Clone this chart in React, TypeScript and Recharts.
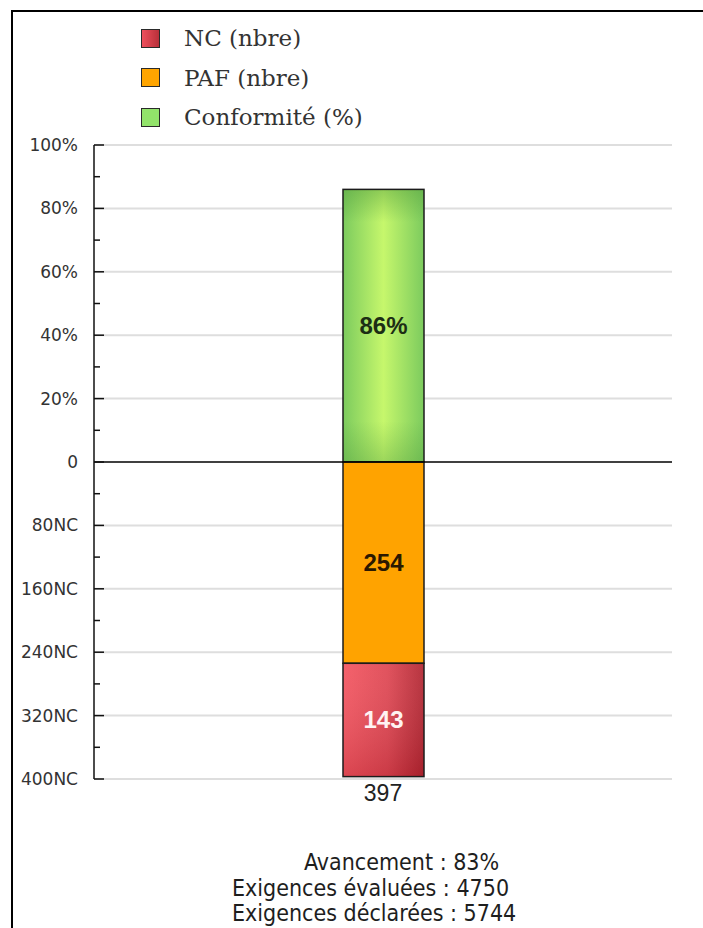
import { BarChart, Bar, XAxis, YAxis, ReferenceLine, LabelList, CartesianGrid } from "recharts";

const categories = ["397"];
const conformite = [86];
const paf = [254];
const nc = [143];

// 400 NC on the lower half == 100 % on the upper half
const NC_PER_UNIT = 4;

const yTicks = [
    -100, -90, -80, -70, -60, -50, -40, -30, -20, -10, 0, 10, 20, 30, 40, 50, 60, 70, 80, 90, 100,
];
const gridTicks = [-100, -80, -60, -40, -20, 20, 40, 60, 80, 100];

const legendItems = [
    { name: "NC (nbre)", fill: "linear-gradient(90deg, #ee4f5c, #b8303a)" },
    { name: "PAF (nbre)", fill: "#ffa500" },
    { name: "Conformité (%)", fill: "#92e36a" },
];

const summaryLines = [
    { text: "Avancement : 83%", left: 304 },
    { text: "Exigences évaluées : 4750", left: 232 },
    { text: "Exigences déclarées : 5744", left: 232 },
];

const data = categories.map((name, i) => ({
    name,
    conformite: conformite[i],
    paf: -paf[i] / NC_PER_UNIT,
    nc: -nc[i] / NC_PER_UNIT,
    pafLabel: paf[i],
    ncLabel: nc[i],
    confLabel: `${conformite[i]}%`,
}));

const formatY = (v: number) => {
    if (v === 0) return "0";
    if (v > 0) return `${v}%`;
    return `${-v * NC_PER_UNIT}NC`;
};

const TICK_MARGIN = 16;

const YTick = (props: any) => {
    const { x, y, payload } = props;
    const v = payload.value;
    const major = v % 20 === 0;
    const axisX = x + TICK_MARGIN;
    return (
        <g>
            <line
                x1={axisX}
                x2={axisX + (major ? 10 : 6)}
                y1={y}
                y2={y}
                stroke="#111"
                strokeWidth={1.5}
            />
            {major && (
                <text
                    x={x}
                    y={y}
                    dy={6}
                    textAnchor="end"
                    fontFamily="'DejaVu Sans', sans-serif"
                    fontSize={17}
                    fill="#333"
                >
                    {formatY(v)}
                </text>
            )}
        </g>
    );
};

const PillowBar = (props: any) => {
    const { x, y, width, height, hGrad, vGrad, solid } = props;
    const top = Math.min(y, y + height);
    const h = Math.abs(height);
    return (
        <g>
            <rect x={x} y={top} width={width} height={h} fill={solid || `url(#${hGrad})`} />
            {vGrad && <rect x={x} y={top} width={width} height={h} fill={`url(#${vGrad})`} />}
            <rect
                x={x}
                y={top}
                width={width}
                height={h}
                fill="none"
                stroke="#1c1c1c"
                strokeWidth={1.5}
            />
        </g>
    );
};

const labelFont = "'Liberation Sans', Arial, sans-serif";

const App = () => {
    return (
        <div
            style={{
                position: "absolute",
                left: 0,
                top: 0,
                width: 703,
                height: 928,
                background: "#fff",
                overflow: "hidden",
            }}
        >
            <div
                style={{
                    position: "absolute",
                    left: 11,
                    top: 10,
                    width: 692,
                    height: 918,
                    borderLeft: "2px solid #000",
                    borderTop: "2px solid #000",
                    boxSizing: "border-box",
                }}
            />

            {legendItems.map((item, i) => (
                <div
                    key={item.name}
                    style={{
                        position: "absolute",
                        left: 141,
                        top: 27 + i * 39.5,
                        height: 22,
                        display: "flex",
                        alignItems: "center",
                    }}
                >
                    <div
                        style={{
                            width: 19,
                            height: 19,
                            background: item.fill,
                            border: "1.5px solid #2a2a2a",
                            boxSizing: "border-box",
                        }}
                    />
                    <span
                        style={{
                            marginLeft: 24,
                            fontFamily: "'DejaVu Serif', serif",
                            fontSize: 23,
                            color: "#333",
                            whiteSpace: "nowrap",
                        }}
                    >
                        {item.name}
                    </span>
                </div>
            ))}

            <div style={{ position: "absolute", left: 0, top: 0 }}>
                <BarChart
                    width={703}
                    height={928}
                    data={data}
                    stackOffset="sign"
                    margin={{ top: 145, right: 31, left: 14, bottom: 119 }}
                >
                    <defs>
                        <linearGradient id="gGreenH" x1="0" y1="0" x2="1" y2="0">
                            <stop offset="0%" stopColor="#7ccb5e" />
                            <stop offset="50%" stopColor="#c6f76c" />
                            <stop offset="100%" stopColor="#7ccb5e" />
                        </linearGradient>
                        <linearGradient id="gGreenV" x1="0" y1="0" x2="0" y2="1">
                            <stop offset="0%" stopColor="#4f9a3c" stopOpacity={0.45} />
                            <stop offset="12%" stopColor="#4f9a3c" stopOpacity={0} />
                            <stop offset="85%" stopColor="#4f9a3c" stopOpacity={0} />
                            <stop offset="100%" stopColor="#4f9a3c" stopOpacity={0.35} />
                        </linearGradient>
                        <linearGradient id="gRedH" x1="0" y1="0" x2="1" y2="0">
                            <stop offset="0%" stopColor="#f4545f" />
                            <stop offset="55%" stopColor="#de4450" />
                            <stop offset="100%" stopColor="#b0232f" />
                        </linearGradient>
                        <linearGradient id="gRedV" x1="0" y1="0" x2="0" y2="1">
                            <stop offset="0%" stopColor="#ffffff" stopOpacity={0.08} />
                            <stop offset="100%" stopColor="#7a0f18" stopOpacity={0.2} />
                        </linearGradient>
                    </defs>

                    <CartesianGrid
                        vertical={false}
                        horizontalValues={gridTicks}
                        stroke="#dedede"
                        strokeWidth={2}
                    />

                    <XAxis
                        dataKey="name"
                        axisLine={false}
                        tickLine={false}
                        tickSize={0}
                        tickMargin={6}
                        height={30}
                        tick={{ fontFamily: labelFont, fontSize: 23, fill: "#222" }}
                    />
                    <YAxis
                        type="number"
                        domain={[-100, 100]}
                        ticks={yTicks}
                        interval={0}
                        width={80}
                        tickSize={0}
                        tickMargin={TICK_MARGIN}
                        tickLine={false}
                        axisLine={{ stroke: "#111", strokeWidth: 1.5 }}
                        tick={<YTick />}
                    />

                    <Bar
                        dataKey="conformite"
                        stackId="a"
                        barSize={81}
                        isAnimationActive={false}
                        shape={(p: any) => <PillowBar {...p} hGrad="gGreenH" vGrad="gGreenV" />}
                    >
                        <LabelList
                            dataKey="confLabel"
                            position="center"
                            fill="#1c2e14"
                            fontFamily={labelFont}
                            fontWeight="bold"
                            fontSize={24}
                        />
                    </Bar>
                    <Bar
                        dataKey="paf"
                        stackId="a"
                        barSize={81}
                        isAnimationActive={false}
                        shape={(p: any) => <PillowBar {...p} solid="#ffa300" />}
                    >
                        <LabelList
                            dataKey="pafLabel"
                            position="center"
                            fill="#2a1800"
                            fontFamily={labelFont}
                            fontWeight="bold"
                            fontSize={24}
                        />
                    </Bar>
                    <Bar
                        dataKey="nc"
                        stackId="a"
                        barSize={81}
                        isAnimationActive={false}
                        shape={(p: any) => <PillowBar {...p} hGrad="gRedH" vGrad="gRedV" />}
                    >
                        <LabelList
                            dataKey="ncLabel"
                            position="center"
                            fill="#fff3f3"
                            fontFamily={labelFont}
                            fontWeight="bold"
                            fontSize={24}
                        />
                    </Bar>

                    <ReferenceLine y={0} stroke="#000" strokeWidth={1.5} />
                </BarChart>
            </div>

            {summaryLines.map((line, i) => (
                <div
                    key={line.text}
                    style={{
                        position: "absolute",
                        left: line.left,
                        top: 849 + i * 25.5,
                        fontFamily: "'DejaVu Sans Condensed', 'DejaVu Sans', sans-serif",
                        fontSize: 23,
                        lineHeight: "26px",
                        color: "#1e1e1e",
                        whiteSpace: "nowrap",
                    }}
                >
                    {line.text}
                </div>
            ))}
        </div>
    );
};

export default App;
